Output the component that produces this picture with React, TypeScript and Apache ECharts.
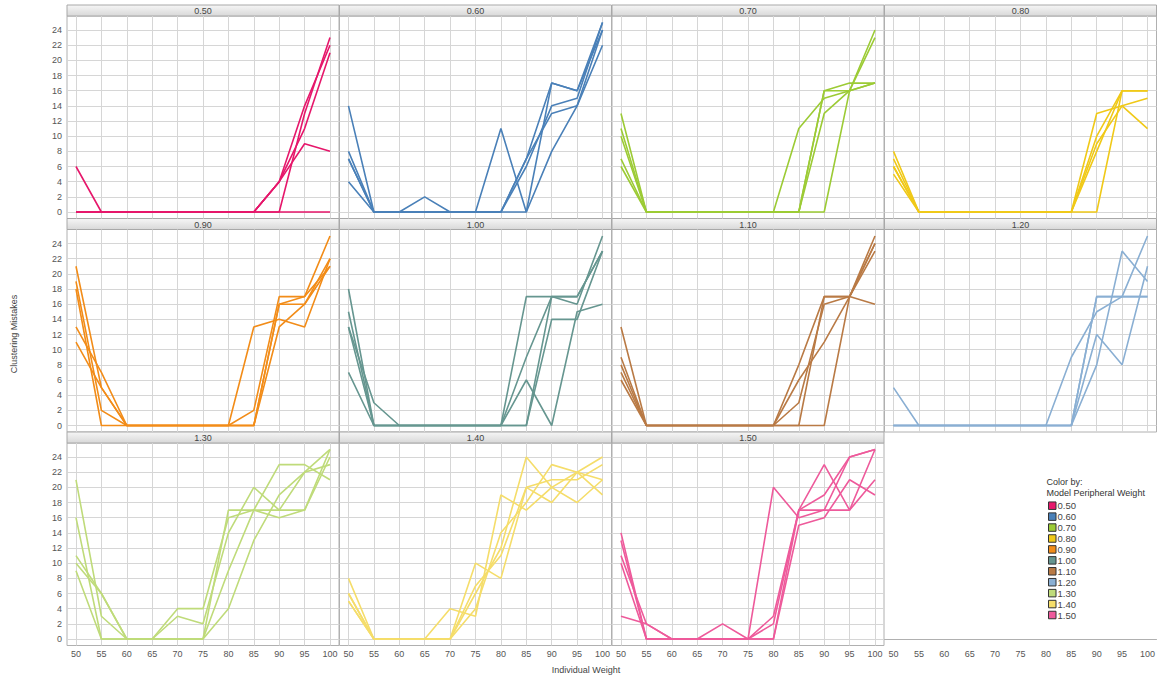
import React, { useEffect, useRef } from 'react';
import * as echarts from 'echarts';

const xValues = [50, 55, 60, 65, 70, 75, 80, 85, 90, 95, 100];
const xTicks = [50, 55, 60, 65, 70, 75, 80, 85, 90, 95, 100];
const yTicks = [0, 2, 4, 6, 8, 10, 12, 14, 16, 18, 20, 22, 24];
const panelLabels = ['0.50', '0.60', '0.70', '0.80', '0.90', '1.00', '1.10', '1.20', '1.30', '1.40', '1.50'];
const panelColors = ['#E6176B', '#4A80B8', '#9CCB35', '#F0C918', '#F28C18', '#669690', '#B97A45', '#8AAFD3', '#BFDB7A', '#F5DD6A', '#EE5A9B'];

const w050 = [
  [6, 0, 0, 0, 0, 0, 0, 0, 4, 9, 8],
  [0, 0, 0, 0, 0, 0, 0, 0, 4, 14, 22],
  [0, 0, 0, 0, 0, 0, 0, 0, 4, 11, 21],
  [0, 0, 0, 0, 0, 0, 0, 0, 0, 13, 23],
  [0, 0, 0, 0, 0, 0, 0, 0, 0, 0, 0],
];
const w060 = [
  [14, 0, 0, 0, 0, 0, 0, 7, 17, 16, 24],
  [8, 0, 0, 2, 0, 0, 0, 6, 14, 15, 25],
  [7, 0, 0, 0, 0, 0, 11, 0, 8, 14, 22],
  [4, 0, 0, 0, 0, 0, 0, 7, 13, 14, 24],
  [7, 0, 0, 0, 0, 0, 0, 0, 17, 16, 25],
];
const w070 = [
  [13, 0, 0, 0, 0, 0, 0, 11, 15, 16, 17],
  [11, 0, 0, 0, 0, 0, 0, 0, 16, 16, 17],
  [10, 0, 0, 0, 0, 0, 0, 0, 13, 16, 24],
  [7, 0, 0, 0, 0, 0, 0, 0, 0, 16, 23],
  [6, 0, 0, 0, 0, 0, 0, 0, 16, 17, 17],
];
const w080 = [
  [8, 0, 0, 0, 0, 0, 0, 0, 13, 14, 15],
  [7, 0, 0, 0, 0, 0, 0, 0, 10, 16, 16],
  [6, 0, 0, 0, 0, 0, 0, 0, 9, 14, 11],
  [5, 0, 0, 0, 0, 0, 0, 0, 8, 16, 16],
  [6, 0, 0, 0, 0, 0, 0, 0, 0, 16, 16],
];
const w090 = [
  [21, 5, 0, 0, 0, 0, 0, 0, 16, 17, 25],
  [19, 2, 0, 0, 0, 0, 0, 2, 17, 17, 21],
  [18, 0, 0, 0, 0, 0, 0, 13, 14, 13, 22],
  [13, 7, 0, 0, 0, 0, 0, 0, 13, 16, 21],
  [11, 5, 0, 0, 0, 0, 0, 0, 16, 16, 22],
];
const w100 = [
  [18, 0, 0, 0, 0, 0, 0, 17, 17, 17, 23],
  [15, 0, 0, 0, 0, 0, 0, 9, 17, 16, 25],
  [13, 3, 0, 0, 0, 0, 0, 0, 14, 14, 23],
  [7, 0, 0, 0, 0, 0, 0, 6, 0, 15, 16],
  [13, 0, 0, 0, 0, 0, 0, 0, 17, 17, 23],
];
const w110 = [
  [13, 0, 0, 0, 0, 0, 0, 8, 17, 17, 16],
  [9, 0, 0, 0, 0, 0, 0, 3, 16, 17, 24],
  [8, 0, 0, 0, 0, 0, 0, 0, 17, 17, 23],
  [7, 0, 0, 0, 0, 0, 0, 6, 11, 17, 25],
  [6, 0, 0, 0, 0, 0, 0, 0, 0, 17, 24],
];
const w120 = [
  [5, 0, 0, 0, 0, 0, 0, 9, 15, 17, 25],
  [0, 0, 0, 0, 0, 0, 0, 0, 17, 17, 17],
  [0, 0, 0, 0, 0, 0, 0, 0, 12, 8, 21],
  [0, 0, 0, 0, 0, 0, 0, 0, 8, 23, 19],
  [0, 0, 0, 0, 0, 0, 0, 0, 17, 17, 17],
];
const w130 = [
  [21, 3, 0, 0, 0, 0, 17, 17, 17, 17, 25],
  [16, 0, 0, 0, 4, 4, 16, 17, 16, 17, 24],
  [11, 6, 0, 0, 3, 2, 14, 20, 17, 22, 23],
  [10, 6, 0, 0, 0, 0, 9, 17, 23, 23, 21],
  [9, 0, 0, 0, 0, 0, 4, 13, 19, 22, 25],
];
const w140 = [
  [8, 0, 0, 0, 4, 3, 19, 17, 20, 22, 21],
  [6, 0, 0, 0, 0, 10, 8, 20, 18, 22, 24],
  [5, 0, 0, 0, 0, 6, 12, 24, 20, 18, 21],
  [6, 0, 0, 0, 0, 4, 14, 18, 23, 22, 19],
  [5, 0, 0, 0, 0, 7, 11, 20, 21, 21, 23],
];
const w150 = [
  [14, 0, 0, 0, 0, 0, 20, 16, 17, 17, 21],
  [13, 0, 0, 0, 0, 0, 3, 17, 19, 24, 25],
  [11, 2, 0, 0, 0, 0, 0, 15, 16, 21, 19],
  [10, 0, 0, 0, 2, 0, 2, 17, 23, 17, 25],
  [3, 2, 0, 0, 0, 0, 0, 17, 17, 24, 25],
];
const panelData = [w050, w060, w070, w080, w090, w100, w110, w120, w130, w140, w150];

const FONT = 'Liberation Sans, Arial, sans-serif';
const COL_LEFT = [67, 339.5, 612, 884.5];
const ROW_TOP = [5, 218.5, 432];
const PW = 272;
const HH = 11;
const PH = 202.5;
const X_MIN = 48.23;
const X_MAX = 101.77;
const Y_MIN = -0.857;
const Y_MAX = 25.85;

export default function App() {
  const ref = useRef<HTMLDivElement>(null);
  useEffect(() => {
    const chart = echarts.init(ref.current!, null, { renderer: 'svg' });
    const grids: any[] = [];
    const xAxes: any[] = [];
    const yAxes: any[] = [];
    const series: any[] = [];
    const graphics: any[] = [];
    for (let i = 0; i < 12; i++) {
      const r = Math.floor(i / 4);
      const c = i % 4;
      const has = i < panelLabels.length;
      grids.push({
        left: COL_LEFT[c], top: ROW_TOP[r] + HH, width: PW, height: PH,
        show: has, borderColor: '#b0b0b0', borderWidth: 1, backgroundColor: '#fff',
        containLabel: false, outerBoundsMode: 'none',
      });
      xAxes.push({
        type: 'value', gridIndex: i, min: X_MIN, max: X_MAX,
        axisLine: { show: !has, lineStyle: { color: '#b0b0b0' } },
        axisTick: { show: false, customValues: xTicks },
        axisLabel: { show: r === 2, customValues: xTicks, fontSize: 9, color: '#555', margin: 4, fontFamily: FONT },
        splitLine: { show: has, lineStyle: { color: '#d6d6d6', width: 1 } },
      });
      yAxes.push({
        type: 'value', gridIndex: i, min: Y_MIN, max: Y_MAX, show: has,
        axisLine: { show: false },
        axisTick: { show: false, customValues: yTicks },
        axisLabel: { show: c === 0, customValues: yTicks, fontSize: 9, color: '#555', margin: 5, fontFamily: FONT },
        splitLine: { show: has, lineStyle: { color: '#d6d6d6', width: 1 } },
      });
      if (!has) continue;
      const color = panelColors[i];
      panelData[i].forEach((line) => {
        series.push({
          type: 'line', name: panelLabels[i], xAxisIndex: i, yAxisIndex: i,
          data: xValues.map((x, j) => [x, line[j]]),
          symbol: 'none', silent: true,
          lineStyle: { color, width: 1.6 }, itemStyle: { color },
        });
      });
      graphics.push({
        type: 'rect',
        shape: { x: COL_LEFT[c], y: ROW_TOP[r], width: PW, height: HH },
        style: {
          fill: new echarts.graphic.LinearGradient(0, 0, 0, 1, [
            { offset: 0, color: '#f6f6f6' }, { offset: 1, color: '#d8d8d8' },
          ]),
          stroke: '#a8a8a8', lineWidth: 1,
        },
      });
      graphics.push({
        type: 'text', x: COL_LEFT[c] + PW / 2, y: ROW_TOP[r] + HH / 2 + 0.5,
        style: { text: panelLabels[i], fontSize: 9, fill: '#444', align: 'center', verticalAlign: 'middle', fontFamily: FONT },
      });
    }
    graphics.push({
      type: 'text', x: 14, y: 334, rotation: Math.PI / 2,
      style: { text: 'Clustering Mistakes', fontSize: 9, fill: '#444', align: 'center', verticalAlign: 'middle', fontFamily: FONT },
    });
    graphics.push({
      type: 'text', x: 586, y: 670,
      style: { text: 'Individual Weight', fontSize: 9, fill: '#444', align: 'center', verticalAlign: 'middle', fontFamily: FONT },
    });
    graphics.push({
      type: 'text', x: 1046.5, y: 482,
      style: { text: 'Color by:', fontSize: 9, fill: '#333', align: 'left', verticalAlign: 'middle', fontFamily: FONT },
    });
    graphics.push({
      type: 'text', x: 1046.5, y: 493,
      style: { text: 'Model Peripheral Weight', fontSize: 9, fill: '#333', align: 'left', verticalAlign: 'middle', fontFamily: FONT },
    });
    panelLabels.forEach((lab, k) => {
      const cy = 505.7 + k * 10.93;
      graphics.push({
        type: 'rect', shape: { x: 1048.5, y: cy - 3.75, width: 7.5, height: 7.5 },
        style: { fill: panelColors[k], stroke: '#333', lineWidth: 1 },
      });
      graphics.push({
        type: 'text', x: 1057.5, y: cy,
        style: { text: lab, fontSize: 9.5, fill: '#444', align: 'left', verticalAlign: 'middle', fontFamily: FONT },
      });
    });
    chart.setOption({
      animation: false,
      backgroundColor: '#fff',
      textStyle: { fontFamily: FONT },
      grid: grids,
      xAxis: xAxes,
      yAxis: yAxes,
      series,
      graphic: graphics,
    });
    return () => chart.dispose();
  }, []);
  return <div ref={ref} style={{ position: 'absolute', left: 0, top: 0, width: 1163, height: 677 }} />;
}
